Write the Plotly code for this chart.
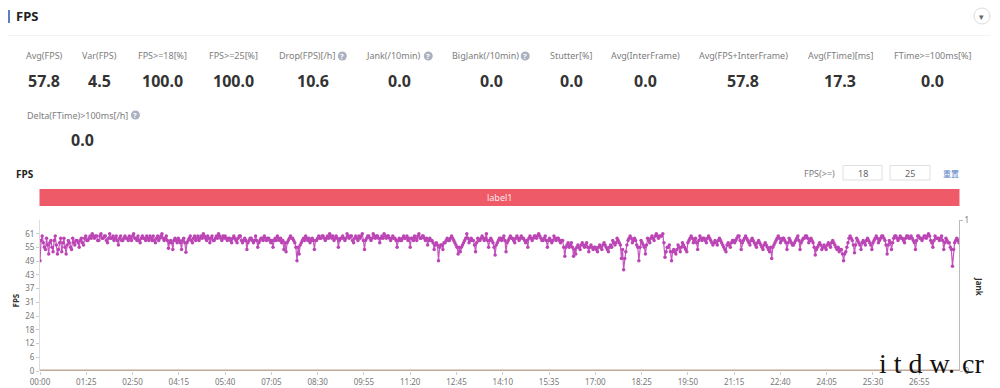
import plotly.graph_objects as go

# ---------- data ----------
metric_names = ["Avg(FPS)", "Var(FPS)", "FPS>=18[%]", "FPS>=25[%]", "Drop(FPS)[/h]", "Jank(/10min)",
                "BigJank(/10min)", "Stutter[%]", "Avg(InterFrame)", "Avg(FPS+InterFrame)", "Avg(FTime)[ms]",
                "FTime>=100ms[%]", "Delta(FTime)>100ms[/h]"]
metric_values = ["57.8", "4.5", "100.0", "100.0", "10.6", "0.0", "0.0", "0.0", "0.0", "57.8", "17.3", "0.0", "0.0"]

x_tick_seconds = [0, 85, 170, 255, 340, 425, 510, 595, 680, 765, 850, 935, 1020, 1105, 1190, 1275, 1360, 1445, 1530, 1615]
x_tick_labels = ["00:00", "01:25", "02:50", "04:15", "05:40", "07:05", "08:30", "09:55", "11:20", "12:45",
                 "14:10", "15:35", "17:00", "18:25", "19:50", "21:15", "22:40", "24:05", "25:30", "26:55"]
y_tick_values = [0, 6.1, 12.2, 18.3, 24.4, 30.5, 36.6, 42.7, 48.8, 54.9, 61]
y_tick_labels = ["0", "6", "12", "18", "24", "31", "37", "43", "49", "55", "61"]

fps_part1 = [49, 60, 55, 59, 52, 58, 53, 60, 52, 57,
             53, 59, 52, 58, 55, 59, 56, 58, 55, 59,
             56, 60, 58, 60, 61, 59, 60, 58, 61, 59,
             60, 57, 61, 59, 58, 60, 56, 60, 58, 60,
             59, 60, 58, 61, 59, 60, 57, 60, 59, 60,
             58, 59, 60, 57, 60, 59, 61, 58, 60, 54.6,
             58, 54, 59, 57, 58, 54, 59, 52.8, 58, 60,
             57, 60, 59, 58, 60, 61, 59, 60, 57, 60,
             58, 60, 61, 59, 60]
fps_part2 = [60, 58, 59, 57, 60, 58, 59, 60, 57, 59,
             54, 58, 59, 57, 60, 55, 58, 59, 60, 58,
             59, 57, 55, 59, 60, 58, 57, 54, 53, 58,
             60, 59, 57, 49, 52, 57, 59, 60, 58, 57,
             59, 54, 58, 60, 59, 60, 58, 60, 61, 59,
             58, 60, 55, 59, 60, 58, 61, 59, 60, 57,
             60, 58, 59, 61, 54, 59, 60, 58, 61, 59,
             60, 57, 60, 61, 59, 60, 58, 60, 59, 55,
             59, 58, 60, 59, 58]
fps_part3 = [55, 59, 60, 58, 61, 59, 60, 58, 56, 59,
             58, 54, 57, 49, 56, 54, 57, 59, 58, 60,
             58, 56, 52, 53, 56, 58, 61, 57, 59, 58,
             53, 59, 58, 60, 58, 61, 55, 59, 57, 51.5,
             57, 59, 58, 60, 53, 58, 60, 59, 57, 60,
             58, 60, 59, 57, 55, 60, 58, 60, 59, 61,
             59, 58, 60, 55, 59, 57, 60, 58, 59, 57,
             58, 51, 56, 55, 57, 51, 52, 56, 54, 57,
             55, 57, 53, 56, 54]
fps_part4 = [55, 53, 56, 54, 57, 55, 53, 56, 58, 56,
             59, 57, 50, 45, 53, 58, 60, 57, 59, 56,
             49, 58, 56, 52, 59, 57, 60, 58, 61, 59,
             60, 61, 50.5, 55, 56, 49, 54, 52, 56, 53,
             57, 55, 53, 58, 60, 57, 59, 54, 60, 58,
             59, 57, 60, 58, 56, 58, 56, 59, 57, 55,
             53, 57, 55, 58, 57, 59, 60, 54, 58, 60,
             58, 56, 59, 57, 55, 58, 56, 54, 57, 55,
             53, 50, 56, 58, 60]
fps_part5 = [57, 59, 58, 54, 59, 57, 56, 58, 60, 54,
             58, 59, 60, 57, 59, 57, 51.5, 55, 57, 54,
             56, 54, 57, 55, 58, 56, 54, 53, 54, 49,
             53, 57, 60, 58, 52.5, 59, 57, 54, 58, 56,
             59, 57, 54, 58, 60, 57, 59, 60, 58, 52,
             58, 54, 59, 60, 58, 60, 59, 57, 60, 59,
             60, 58, 54, 60, 59, 58, 60, 59, 61, 58,
             55, 60, 59, 58, 60, 54, 59, 57, 55, 46.5,
             57, 59, 57]

# samples lying midway between the ones above
fps_mid1 = [58, 57, 54, 56, 57, 55, 58, 56, 54, 59,
            57, 55, 56, 57, 54, 57, 58, 57, 58, 57,
            59, 58, 59, 59, 60, 60, 58, 60, 59, 60,
            58, 59, 59, 60, 59, 58, 59, 58, 59, 59,
            58, 59, 60, 59, 58, 58, 59, 59, 58, 59,
            60, 58, 58, 59, 58, 60, 59, 59, 58, 57,
            57, 58, 58, 59, 57, 58, 57, 57, 59, 58,
            59, 58, 60, 59, 59, 60, 58, 59, 59, 58,
            59, 59, 60, 58, 59]
fps_mid2 = [59, 59, 58, 59, 59, 57, 60, 58, 58, 58,
            57, 59, 58, 58, 58, 57, 59, 58, 59, 59,
            58, 58, 58, 58, 59, 59, 58, 57, 57, 59,
            59, 58, 55, 55, 56, 58, 58, 59, 59, 58,
            58, 58, 59, 59, 60, 59, 59, 59, 60, 60,
            59, 59, 58, 59, 59, 59, 60, 60, 58, 59,
            59, 60, 60, 58, 58, 60, 59, 59, 60, 60,
            59, 59, 59, 60, 60, 59, 59, 59, 58, 58,
            58, 59, 59, 60, 59]
fps_mid3 = [59, 58, 59, 60, 59, 60, 59, 59, 58, 58,
            57, 56, 56, 55, 56, 57, 58, 58, 59, 59,
            57, 55, 55, 55, 57, 59, 59, 58, 58, 56,
            57, 58, 59, 59, 59, 58, 58, 58, 55, 56,
            58, 59, 59, 58, 57, 59, 59, 58, 59, 59,
            59, 59, 58, 58, 59, 59, 59, 60, 60, 60,
            58, 59, 58, 58, 58, 58, 59, 59, 58, 58,
            55, 55, 57, 56, 55, 54, 55, 55, 56, 56,
            56, 55, 55, 55, 55]
fps_mid4 = [54, 55, 55, 56, 56, 54, 55, 55, 57, 57,
            58, 56, 54, 50, 56, 59, 59, 58, 58, 55,
            55, 57, 55, 56, 58, 59, 59, 60, 60, 60,
            60, 57, 53, 55, 53, 53, 53, 54, 55, 55,
            56, 54, 57, 59, 59, 58, 57, 58, 59, 59,
            58, 59, 59, 57, 57, 57, 58, 58, 56, 54,
            56, 56, 57, 58, 58, 60, 58, 57, 59, 59,
            57, 58, 58, 56, 57, 57, 55, 56, 56, 54,
            55, 55, 57, 59, 59]
fps_mid5 = [58, 59, 57, 57, 58, 56, 57, 59, 58, 57,
            59, 60, 59, 58, 58, 55, 54, 56, 56, 55,
            55, 56, 56, 57, 57, 55, 55, 54, 52, 52,
            55, 59, 59, 56, 56, 58, 56, 57, 57, 58,
            58, 56, 57, 59, 59, 58, 60, 59, 56, 56,
            57, 57, 60, 59, 59, 59, 58, 59, 60, 59,
            59, 57, 58, 60, 59, 59, 60, 60, 60, 57,
            58, 59, 59, 59, 58, 57, 58, 57, 54, 54,
            58, 58]
sample_seconds = 4
label_name = "label1"
threshold_values = ["18", "25"]

on_beat = fps_part1 + fps_part2 + fps_part3 + fps_part4 + fps_part5
between = fps_mid1 + fps_mid2 + fps_mid3 + fps_mid4 + fps_mid5
fps, times = [], []
for i, v in enumerate(on_beat):
    fps.append(v)
    times.append(i * sample_seconds)
    if i < len(between):
        fps.append(between[i])
        times.append(i * sample_seconds + sample_seconds / 2)
jank = [0 for _ in fps]

# ---------- page geometry (pixels) ----------
W, H = 1000, 388
L, R, T, B = 39.5, 959, 220, 371
FONT = "Noto Sans"
GRAY = "#7d7d7d"
DARK = "#333333"
BLUE = "#5b7fc7"


def px(x):
    return (x - L) / (R - L)


def py(y):
    return (B - y) / (B - T)


annotations, shapes = [], []


def text(x, y, s, size=9, color=GRAY, anchor="center", bold=False, angle=0, family=FONT):
    annotations.append(dict(xref="paper", yref="paper", x=px(x), y=py(y), text=f"<b>{s}</b>" if bold else s,
                            showarrow=False, xanchor=anchor, yanchor="middle", textangle=angle,
                            font=dict(size=size, color=color, family=family), borderpad=0, borderwidth=0))


def rect(x0, y0, x1, y1, fill="rgba(0,0,0,0)", line="rgba(0,0,0,0)", width=1, kind="rect"):
    shapes.append(dict(type=kind, xref="paper", yref="paper", x0=px(x0), x1=px(x1), y0=py(y0), y1=py(y1),
                       fillcolor=fill, line=dict(color=line, width=width), layer="above"))


def help_icon(x, y):
    rect(x - 4.5, y - 4.5, x + 4.5, y + 4.5, fill="#aab1c0", kind="circle")
    text(x, y, "?", size=7.5, color="#ffffff", bold=True)


# header
rect(7.5, 10, 9.5, 23, fill=BLUE)
text(15, 16, "FPS", size=13, color="#222222", anchor="left", bold=True)
rect(8, 35, 991, 35.8, fill="#eeeeee")
rect(974, 8, 990, 24, fill="#ffffff", line="#dddddd", kind="circle")
text(982, 16, "▾", size=9, color="#666666")

# metrics
label_centres = [44, 99, 162, 233, 307, 393, 485, 571, 645, 743, 840, 932, 77]
value_centres = [44, 99, 162, 233, 313, 399, 491, 571, 645, 743, 840, 932, 82]
for i, (n, v) in enumerate(zip(metric_names, metric_values)):
    ly, vy = (56, 81) if i < 12 else (115, 140)
    text(label_centres[i], ly, n.replace(">", "&gt;"), size=9)
    text(value_centres[i], vy, v, size=16, color=DARK, bold=True)
help_icon(342, 56)
help_icon(428, 56)
help_icon(525, 56)
help_icon(135, 115)

# chart toolbar
text(15, 174, "FPS", size=10, color="#222222", anchor="left", bold=True)
text(819, 173, "FPS(&gt;=)", size=9)
rect(843, 165.5, 882, 180, fill="#ffffff", line="#e0e0e0")
rect(890, 165.5, 930, 180, fill="#ffffff", line="#e0e0e0")
text(863, 173, threshold_values[0], size=9, color="#666666")
text(910, 173, threshold_values[1], size=9, color="#666666")
text(951, 173, "重置", size=8, color=BLUE, family="Noto Sans CJK SC")

# label band
rect(39, 189, 959.5, 206, fill="#ee5a67")
text(499, 197, label_name, size=9, color="#fde8ea")

# axis titles
text(14, 301, "FPS", size=8, color="#333333", bold=True, angle=-90)
text(979, 287, "Jank", size=8, color="#333333", bold=True, angle=90)

# watermark
text(931, 363, "i t d w. cr", size=28, color="#111111", family="Liberation Serif")

fig = go.Figure()
fig.add_trace(go.Scatter(x=times, y=jank, mode="lines", name="Jank", yaxis="y2", cliponaxis=False,
                         line=dict(color="#c2a899", width=3), hoverinfo="skip"))
fig.add_trace(go.Scatter(x=times, y=fps, mode="lines+markers", name="FPS", yaxis="y",
                         line=dict(color="#c655c0", width=1.2),
                         marker=dict(color="#bb45b5", size=3.5), hoverinfo="skip"))

fig.update_layout(
    width=W, height=H, autosize=False,
    margin=dict(l=L, r=W - R, t=T, b=H - B, pad=0),
    paper_bgcolor="#ffffff", plot_bgcolor="#ffffff",
    showlegend=False,
    font=dict(family=FONT, size=8, color="#777777"),
    xaxis=dict(range=[0, times[-1]], tickmode="array", tickvals=x_tick_seconds, ticktext=x_tick_labels,
               automargin=False,
               showgrid=False, zeroline=False, showline=False, ticks="outside", ticklen=3, tickwidth=1,
               tickcolor="#cccccc", tickfont=dict(size=8, color="#777777")),
    yaxis=dict(range=[0, 67.1], tickmode="array", tickvals=y_tick_values, ticktext=y_tick_labels,
               automargin=False,
               showgrid=False, zeroline=False, showline=True, linecolor="#dddddd", linewidth=1,
               ticks="outside", ticklen=3, tickwidth=1, tickcolor="#cccccc",
               tickfont=dict(size=8, color="#777777")),
    yaxis2=dict(range=[0, 1], overlaying="y", side="right", tickmode="array", tickvals=[0, 1],
                automargin=False,
                ticktext=["0", "1"], showgrid=False, zeroline=False, showline=True, linecolor="#bbbbbb",
                linewidth=1, ticks="outside", ticklen=3, tickcolor="#bbbbbb",
                tickfont=dict(size=8, color="#777777")),
    annotations=annotations, shapes=shapes,
)

fig.write_html("out.html", config=dict(displayModeBar=False),
               post_script="document.body.style.margin='0';document.body.style.overflow='hidden';")
